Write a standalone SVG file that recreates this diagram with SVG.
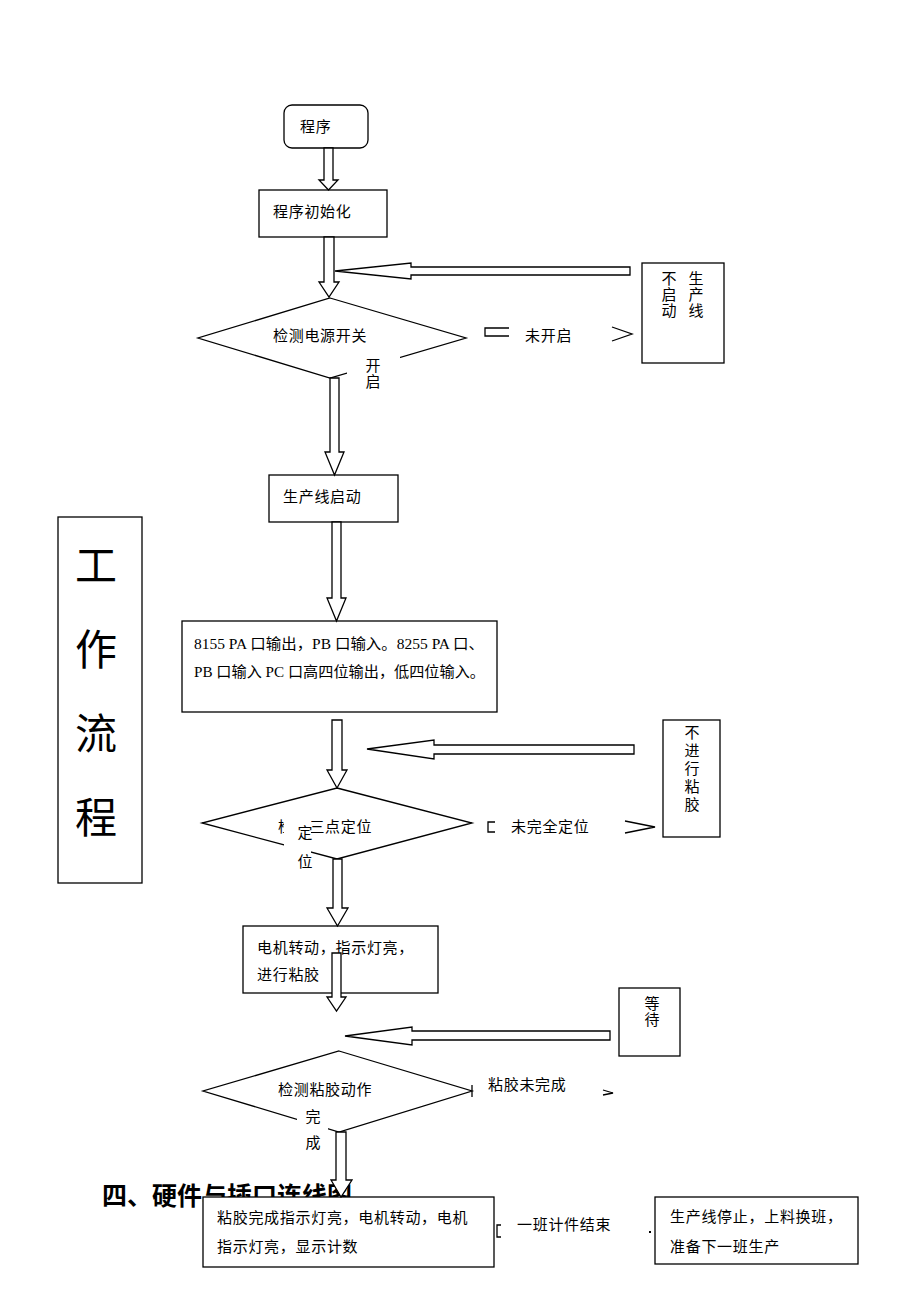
<svg xmlns="http://www.w3.org/2000/svg" width="920" height="1300" viewBox="0 0 920 1300">
<style>
.n{fill:#fff;stroke:#000;stroke-width:1.3}
.c{fill:#fff;stroke:#000;stroke-width:1.3;stroke-linejoin:miter}
.f{fill:none;stroke:#000;stroke-width:1.3}
.t{font-family:"Liberation Sans","Noto Sans CJK SC",sans-serif;font-size:15px;fill:#000;letter-spacing:0.7px}
.m{text-anchor:middle;letter-spacing:0}
.s{font-family:"Liberation Serif","Noto Sans CJK SC",serif;font-size:15px;fill:#000}
.lb{fill:#fff;stroke:none}
.big{font-family:"Liberation Serif","Noto Sans CJK SC",serif;font-size:42px;fill:#000;text-anchor:middle}
</style>
<rect width="920" height="1300" fill="#fff"/>
<text id="heading" x="102" y="1205" font-family="'Noto Sans CJK SC',sans-serif" font-weight="bold" font-size="25">四、硬件与插口连线图</text>

<g id="title"><rect class="n" x="58" y="517" width="84" height="366"/>
<text class="big" x="96" y="581">工</text><text class="big" x="96" y="665">作</text><text class="big" x="96" y="749">流</text><text class="big" x="96" y="833">程</text></g>

<g id="start"><rect class="n" x="284" y="105" width="84" height="43" rx="8"/><text class="t" x="300" y="132">程序</text></g>
<g id="init"><rect class="n" x="259" y="190" width="128" height="47"/><text class="t" x="273" y="217">程序初始化</text></g>
<g id="d1"><polygon class="n" points="330,298 466,338 330,378 198,338"/><text class="t" x="273" y="341">检测电源开关</text></g>
<g id="nostart"><rect class="n" x="642" y="263" width="82" height="100"/>
<text class="t m" x="669" y="284">不</text><text class="t m" x="669" y="300">启</text><text class="t m" x="669" y="316">动</text>
<text class="t m" x="696" y="284">生</text><text class="t m" x="696" y="300">产</text><text class="t m" x="696" y="316">线</text></g>
<g id="lineon"><rect class="n" x="269" y="475" width="129" height="47"/><text class="t" x="283" y="502">生产线启动</text></g>
<g id="ports"><rect class="n" x="182" y="621" width="315" height="91"/>
<text class="s" x="194" y="649" textLength="290" lengthAdjust="spacingAndGlyphs">8155 PA 口输出，PB 口输入。8255 PA 口、</text>
<text class="s" x="194" y="677" textLength="291" lengthAdjust="spacingAndGlyphs">PB 口输入 PC 口高四位输出，低四位输入。</text></g>
<g id="noglue"><rect class="n" x="663" y="720" width="57" height="117"/>
<text class="t m" x="692" y="738">不</text><text class="t m" x="692" y="756">进</text><text class="t m" x="692" y="774">行</text><text class="t m" x="692" y="792">粘</text><text class="t m" x="692" y="810">胶</text></g>
<g id="d2"><polygon class="n" points="337,788 472,823 337,859 202,823"/><text class="t" x="278" y="832">检测三点定位</text></g>
<g id="motor"><rect class="n" x="243" y="926" width="195" height="67"/>
<text class="t" x="257" y="953" letter-spacing="1.3">电机转动，指示灯亮，</text><text class="t" x="257" y="980" letter-spacing="1.3">进行粘胶</text></g>
<g id="wait"><rect class="n" x="619" y="988" width="61" height="68"/><text class="t m" x="652" y="1009">等</text><text class="t m" x="652" y="1025">待</text></g>
<g id="d3"><polygon class="n" points="339,1051 472,1091 339,1132 203,1091"/><text class="t" x="278" y="1095">检测粘胶动作</text></g>
<g id="done"><rect class="n" x="203" y="1197" width="291" height="70"/>
<text class="t" x="217" y="1223" letter-spacing="1.5">粘胶完成指示灯亮，电机转动，电机</text><text class="t" x="217" y="1252" letter-spacing="1.5">指示灯亮，显示计数</text></g>
<g id="stop"><rect class="n" x="655" y="1197" width="203" height="67"/>
<text class="t" x="670" y="1222">生产线停止，上料换班，</text><text class="t" x="670" y="1252">准备下一班生产</text></g>

<g id="connectors">
<path class="c" d="M324,148 V180 H319 L328.5,190 L338,180 H333 V148 Z"/>
<path class="c" d="M324,237 V282 H319 L329,297 L339,282 H334 V237 Z"/>
<path class="c" d="M630,267 H411 V263 L335,271 L411,279 V275 H630 Z"/>
<path class="c" d="M330,378 V452 H325 L334.5,475 L344,452 H339 V378 Z"/>
<path class="c" d="M332,522 V598 H327 L336.5,621 L346,598 H341 V522 Z"/>
<path class="c" d="M332,720 V770 H327 L337,788 L347,770 H342 V720 Z"/>
<path class="c" d="M634,745 H434 V740 L367,749 L434,759 V754 H634 Z"/>
<path class="c" d="M333,859 V908 H327 L337.5,926 L348,908 H342 V859 Z"/>
<path class="c" d="M332,953 V997 H327 L336.5,1011 L346,997 H341 V953 Z"/>
<path class="c" d="M610,1031 H412 V1027 L345,1036 L412,1045 V1040 H610 Z"/>
<path class="c" d="M336,1132 V1180 H331 L341,1197 L352,1180 H346 V1132 Z"/>
<path class="f" d="M509,328 H485 V336 H509"/>
<path class="f" d="M612,327 L632,334 L612,341"/>
<path class="f" d="M495,822 H488 V832 H495"/>
<path class="f" d="M625,821 L655,827 L625,833"/>
<path class="f" d="M472,1085 V1097"/>
<path class="f" d="M603,1090 L613,1093 L603,1095"/>
<path class="f" d="M501,1225 H497 V1237 H501"/>
<rect x="649" y="1231" width="2" height="2" fill="#000"/>
</g>

<g id="labels">
<text class="t" x="525" y="341">未开启</text>
<text class="t" x="511" y="832">未完全定位</text>
<text class="t" x="488" y="1090">粘胶未完成</text>
<text class="t" x="517" y="1230">一班计件结束</text>
<rect class="lb" x="347" y="354" width="53" height="40"/>
<text class="t m" x="373" y="371">开</text><text class="t m" x="373" y="387">启</text>
<rect class="lb" x="284" y="812" width="27" height="62"/>
<text class="t m" x="305" y="838">定</text><text class="t m" x="305" y="867">位</text>
<rect class="lb" x="297" y="1104" width="31" height="52"/>
<text class="t m" x="313" y="1122">完</text><text class="t m" x="313" y="1148">成</text>
</g>
</svg>
